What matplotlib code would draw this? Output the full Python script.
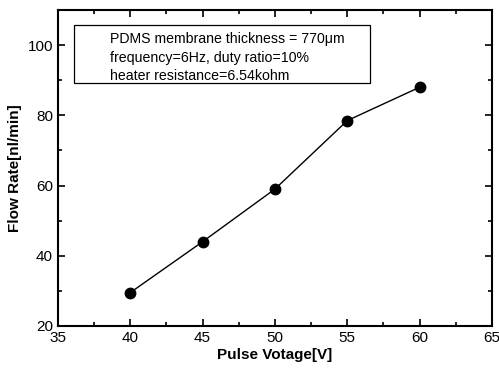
import matplotlib.pyplot as plt
from matplotlib.patches import Rectangle
from matplotlib.ticker import MultipleLocator

plt.rcParams['font.family'] = ['Liberation Sans', 'DejaVu Sans']

# datos
voltage = [40, 45, 50, 55, 60]
flow_rate = [29.5, 44.0, 59.0, 78.5, 88.0]

info_lines = [
    'PDMS membrane thickness = 770\u03bcm',
    'frequency=6Hz, duty ratio=10%',
    'heater resistance=6.54kohm',
]

fig = plt.figure(figsize=(4.99, 3.70), dpi=100)
ax = fig.add_axes([0.116, 0.119, 0.870, 0.854])

ax.plot(voltage, flow_rate, color='black', linewidth=1.0,
        marker='o', markersize=7.5, markerfacecolor='black')

ax.set_xlim(35, 65)
ax.set_ylim(20, 110)
ax.xaxis.set_major_locator(MultipleLocator(5))
ax.xaxis.set_minor_locator(MultipleLocator(2.5))
ax.yaxis.set_major_locator(MultipleLocator(20))
ax.yaxis.set_minor_locator(MultipleLocator(10))
ax.tick_params(which='both', direction='in', top=True, right=True,
               labeltop=False, labelright=False, labelsize=11, width=1.2)
ax.tick_params(which='major', length=5)
ax.tick_params(which='minor', length=3)
for s in ax.spines.values():
    s.set_linewidth(1.5)

ax.set_xlabel('Pulse Votage[V]', fontsize=11, fontweight='bold', labelpad=2)
ax.set_ylabel('Flow Rate[nl/min]', fontsize=11, fontweight='bold', labelpad=4)

# recuadro con la informacion
ax.add_patch(Rectangle((0.037, 0.769), 0.682, 0.184, transform=ax.transAxes,
                       fill=False, edgecolor='black', linewidth=0.9))
for i, line in enumerate(info_lines):
    ax.text(0.12, 0.907 - i * 0.058, line, transform=ax.transAxes,
            fontsize=10.2, va='center', ha='left')

fig.savefig('out.png', dpi=100)
